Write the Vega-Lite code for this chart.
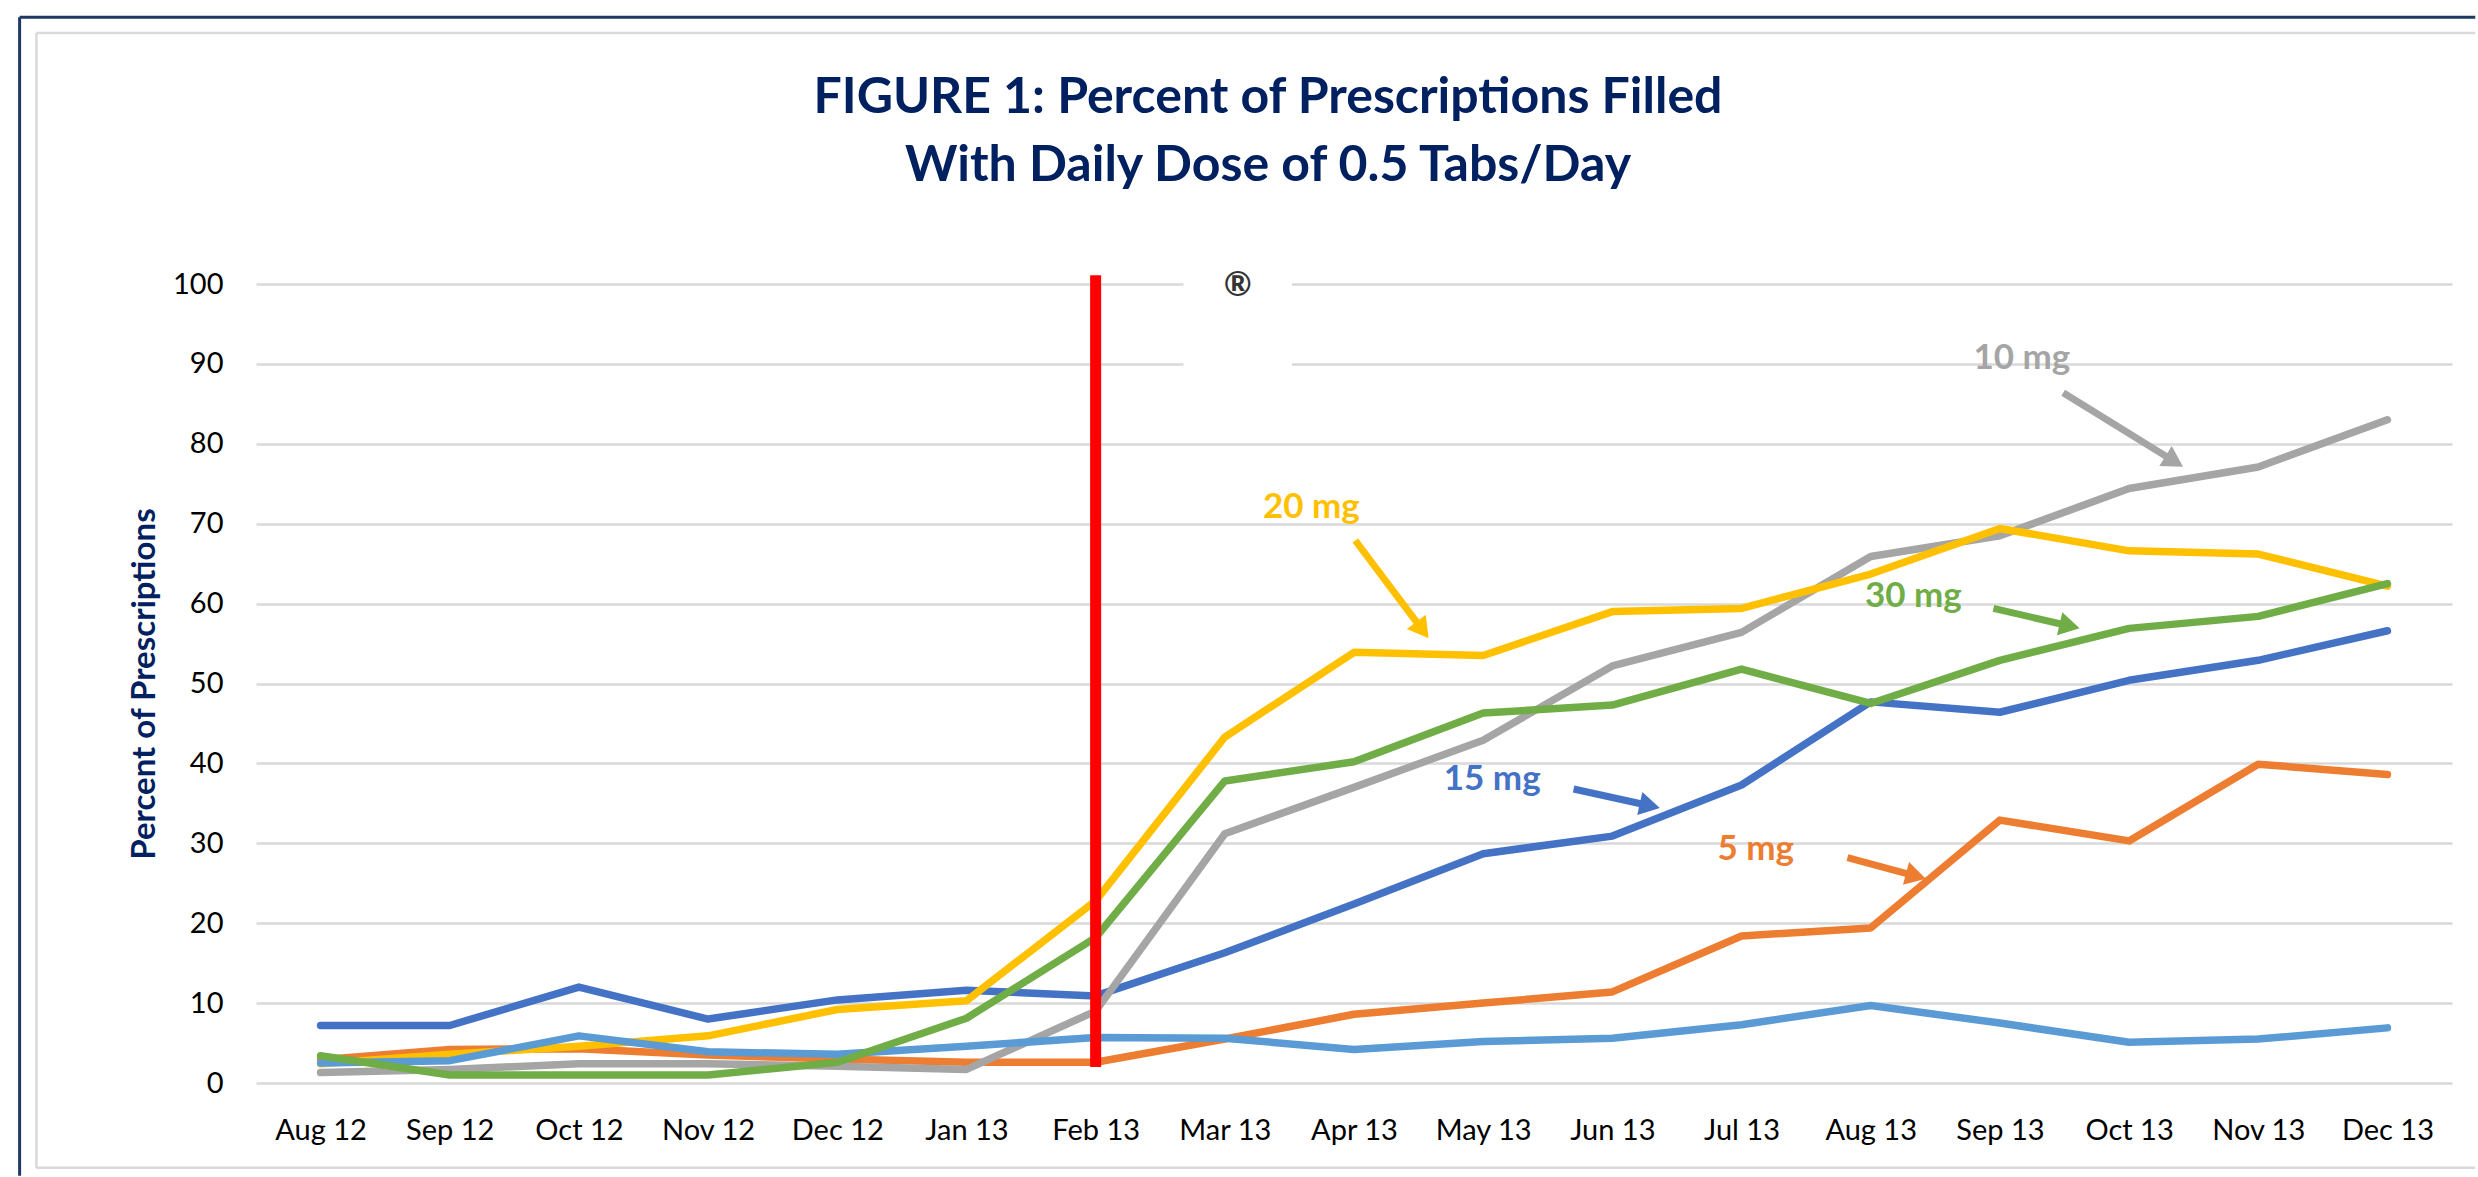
{
  "$schema": "https://vega.github.io/schema/vega-lite/v6.json",
  "width": 2196,
  "height": 799,
  "autosize": {"type": "none"},
  "padding": {"left": 256, "top": 284, "right": 26, "bottom": 94},
  "background": "white",
  "config": {"view": {"stroke": null}, "font": "Lato"},
  "title": {
    "text": ["FIGURE 1: Percent of Prescriptions Filled", "With Daily Dose of 0.5 Tabs/Day"],
    "font": "Lato", "fontSize": 50, "fontWeight": "bold", "color": "#002060",
    "lineHeight": 68, "anchor": "middle", "dx": -86, "offset": -215, "baseline": "alphabetic"
  },
  "datasets": {
    "one": [{}],
    "series": [
      {"month":"Aug 12","series":"15 mg","value":7.2},{"month":"Sep 12","series":"15 mg","value":7.2},{"month":"Oct 12","series":"15 mg","value":12.0},{"month":"Nov 12","series":"15 mg","value":8.0},{"month":"Dec 12","series":"15 mg","value":10.4},{"month":"Jan 13","series":"15 mg","value":11.6},{"month":"Feb 13","series":"15 mg","value":10.9},{"month":"Mar 13","series":"15 mg","value":16.3},{"month":"Apr 13","series":"15 mg","value":22.4},{"month":"May 13","series":"15 mg","value":28.7},{"month":"Jun 13","series":"15 mg","value":30.9},{"month":"Jul 13","series":"15 mg","value":37.3},{"month":"Aug 13","series":"15 mg","value":47.7},{"month":"Sep 13","series":"15 mg","value":46.4},{"month":"Oct 13","series":"15 mg","value":50.4},{"month":"Nov 13","series":"15 mg","value":52.9},{"month":"Dec 13","series":"15 mg","value":56.6},
      {"month":"Aug 12","series":"5 mg","value":2.9},{"month":"Sep 12","series":"5 mg","value":4.2},{"month":"Oct 12","series":"5 mg","value":4.3},{"month":"Nov 12","series":"5 mg","value":3.5},{"month":"Dec 12","series":"5 mg","value":3.0},{"month":"Jan 13","series":"5 mg","value":2.6},{"month":"Feb 13","series":"5 mg","value":2.6},{"month":"Mar 13","series":"5 mg","value":5.5},{"month":"Apr 13","series":"5 mg","value":8.6},{"month":"May 13","series":"5 mg","value":10.0},{"month":"Jun 13","series":"5 mg","value":11.4},{"month":"Jul 13","series":"5 mg","value":18.4},{"month":"Aug 13","series":"5 mg","value":19.4},{"month":"Sep 13","series":"5 mg","value":32.9},{"month":"Oct 13","series":"5 mg","value":30.3},{"month":"Nov 13","series":"5 mg","value":39.9},{"month":"Dec 13","series":"5 mg","value":38.6},
      {"month":"Aug 12","series":"10 mg","value":1.3},{"month":"Sep 12","series":"10 mg","value":1.7},{"month":"Oct 12","series":"10 mg","value":2.4},{"month":"Nov 12","series":"10 mg","value":2.4},{"month":"Dec 12","series":"10 mg","value":2.1},{"month":"Jan 13","series":"10 mg","value":1.7},{"month":"Feb 13","series":"10 mg","value":9.0},{"month":"Mar 13","series":"10 mg","value":31.2},{"month":"Apr 13","series":"10 mg","value":37.0},{"month":"May 13","series":"10 mg","value":42.9},{"month":"Jun 13","series":"10 mg","value":52.2},{"month":"Jul 13","series":"10 mg","value":56.4},{"month":"Aug 13","series":"10 mg","value":65.9},{"month":"Sep 13","series":"10 mg","value":68.5},{"month":"Oct 13","series":"10 mg","value":74.4},{"month":"Nov 13","series":"10 mg","value":77.1},{"month":"Dec 13","series":"10 mg","value":83.0},
      {"month":"Aug 12","series":"20 mg","value":2.4},{"month":"Sep 12","series":"20 mg","value":3.6},{"month":"Oct 12","series":"20 mg","value":4.6},{"month":"Nov 12","series":"20 mg","value":5.9},{"month":"Dec 12","series":"20 mg","value":9.2},{"month":"Jan 13","series":"20 mg","value":10.3},{"month":"Feb 13","series":"20 mg","value":22.8},{"month":"Mar 13","series":"20 mg","value":43.3},{"month":"Apr 13","series":"20 mg","value":53.9},{"month":"May 13","series":"20 mg","value":53.5},{"month":"Jun 13","series":"20 mg","value":59.0},{"month":"Jul 13","series":"20 mg","value":59.4},{"month":"Aug 13","series":"20 mg","value":63.7},{"month":"Sep 13","series":"20 mg","value":69.4},{"month":"Oct 13","series":"20 mg","value":66.6},{"month":"Nov 13","series":"20 mg","value":66.2},{"month":"Dec 13","series":"20 mg","value":62.2},
      {"month":"Aug 12","series":"Other","value":2.5},{"month":"Sep 12","series":"Other","value":2.8},{"month":"Oct 12","series":"Other","value":5.9},{"month":"Nov 12","series":"Other","value":3.9},{"month":"Dec 12","series":"Other","value":3.6},{"month":"Jan 13","series":"Other","value":4.6},{"month":"Feb 13","series":"Other","value":5.7},{"month":"Mar 13","series":"Other","value":5.6},{"month":"Apr 13","series":"Other","value":4.2},{"month":"May 13","series":"Other","value":5.2},{"month":"Jun 13","series":"Other","value":5.6},{"month":"Jul 13","series":"Other","value":7.3},{"month":"Aug 13","series":"Other","value":9.7},{"month":"Sep 13","series":"Other","value":7.5},{"month":"Oct 13","series":"Other","value":5.1},{"month":"Nov 13","series":"Other","value":5.5},{"month":"Dec 13","series":"Other","value":6.9},
      {"month":"Aug 12","series":"30 mg","value":3.4},{"month":"Sep 12","series":"30 mg","value":1.0},{"month":"Oct 12","series":"30 mg","value":1.0},{"month":"Nov 12","series":"30 mg","value":1.0},{"month":"Dec 12","series":"30 mg","value":2.6},{"month":"Jan 13","series":"30 mg","value":8.1},{"month":"Feb 13","series":"30 mg","value":18.2},{"month":"Mar 13","series":"30 mg","value":37.8},{"month":"Apr 13","series":"30 mg","value":40.2},{"month":"May 13","series":"30 mg","value":46.3},{"month":"Jun 13","series":"30 mg","value":47.3},{"month":"Jul 13","series":"30 mg","value":51.8},{"month":"Aug 13","series":"30 mg","value":47.5},{"month":"Sep 13","series":"30 mg","value":52.9},{"month":"Oct 13","series":"30 mg","value":56.9},{"month":"Nov 13","series":"30 mg","value":58.4},{"month":"Dec 13","series":"30 mg","value":62.5}
    ],
    "labels": [
      {"label":"20 mg","x":7.67,"y":72.1},
      {"label":"15 mg","x":9.07,"y":38.0},
      {"label":"5 mg","x":11.11,"y":29.3},
      {"label":"30 mg","x":12.33,"y":60.9},
      {"label":"10 mg","x":13.17,"y":90.7}
    ],
    "arrows": [
      {"label":"20 mg","x0":8.01,"y0":67.9,"x1":8.53,"y1":56.7},
      {"label":"15 mg","x0":9.70,"y0":36.8,"x1":10.29,"y1":34.7},
      {"label":"5 mg","x0":11.82,"y0":28.2,"x1":12.35,"y1":25.9},
      {"label":"30 mg","x0":12.95,"y0":59.4,"x1":13.54,"y1":57.2},
      {"label":"10 mg","x0":13.49,"y0":86.4,"x1":14.35,"y1":77.8}
    ]
  },
  "layer": [
    {
      "layer": [
        {
          "data": {"name": "series"},
          "mark": {"type": "line", "strokeWidth": 7.5, "strokeCap": "round", "strokeJoin": "round"},
          "encoding": {
            "x": {
              "field": "month", "type": "ordinal",
              "scale": {"type": "point", "padding": 0.5, "domain": ["Aug 12","Sep 12","Oct 12","Nov 12","Dec 12","Jan 13","Feb 13","Mar 13","Apr 13","May 13","Jun 13","Jul 13","Aug 13","Sep 13","Oct 13","Nov 13","Dec 13"]},
              "axis": {"title": null, "labelAngle": 0, "labelFont": "Lato", "labelFontSize": 29, "labelColor": "#000000", "labelPadding": 33, "ticks": false, "domain": false, "grid": false}
            },
            "y": {
              "field": "value", "type": "quantitative", "title": "Percent of Prescriptions",
              "scale": {"domain": [0, 100], "nice": false},
              "axis": {"values": [0,10,20,30,40,50,60,70,80,90,100], "grid": true, "gridColor": "#D9D9D9", "gridWidth": 2.5, "domain": false, "ticks": false, "labelFont": "Lato", "labelFontSize": 29, "labelColor": "#000000", "labelPadding": 33, "titleFont": "Lato", "titleFontSize": 33, "titleFontWeight": "bold", "titleColor": "#002060", "titlePadding": 11}
            },
            "color": {
              "field": "series", "type": "nominal",
              "scale": {"domain": ["15 mg","5 mg","10 mg","20 mg","Other","30 mg"], "range": ["#4472C4","#ED7D31","#A5A5A5","#FFC000","#5B9BD5","#70AD47"]},
              "legend": null
            }
          }
        },
        {
          "data": {"name": "one"},
          "mark": {"type": "rule", "color": "#FF0000", "strokeWidth": 11, "strokeCap": "butt"},
          "encoding": {
            "x": {"datum": "Feb 13", "type": "ordinal"},
            "y": {"datum": 2, "type": "quantitative", "title": "Percent of Prescriptions", "scale": {"domain": [0, 100], "nice": false}},
            "y2": {"datum": 101.1}
          }
        }
      ]
    },
    {
      "layer": [
        {
          "data": {"name": "one"},
          "mark": {"type": "rule", "color": "#D9D9D9", "strokeWidth": 2.5},
          "encoding": {
            "x": {"datum": -2.2, "type": "quantitative", "scale": {"domain": [-0.5, 16.5], "nice": false, "zero": false}, "axis": null},
            "x2": {"datum": 16.68},
            "y": {"datum": 131.4, "type": "quantitative", "title": "Percent of Prescriptions", "scale": {"domain": [0, 100], "nice": false}}
          }
        },
        {
          "data": {"name": "one"},
          "mark": {"type": "rule", "color": "#D9D9D9", "strokeWidth": 2.5},
          "encoding": {
            "x": {"datum": -2.2, "type": "quantitative", "scale": {"domain": [-0.5, 16.5], "nice": false, "zero": false}, "axis": null},
            "x2": {"datum": 16.68},
            "y": {"datum": -10.6, "type": "quantitative", "title": "Percent of Prescriptions", "scale": {"domain": [0, 100], "nice": false}}
          }
        },
        {
          "data": {"name": "one"},
          "mark": {"type": "rule", "color": "#D9D9D9", "strokeWidth": 2.5},
          "encoding": {
            "x": {"datum": -2.2, "type": "quantitative", "scale": {"domain": [-0.5, 16.5], "nice": false, "zero": false}, "axis": null},
            "y": {"datum": 131.4, "type": "quantitative", "title": "Percent of Prescriptions", "scale": {"domain": [0, 100], "nice": false}},
            "y2": {"datum": -10.6}
          }
        },
        {
          "data": {"name": "one"},
          "mark": {"type": "rule", "color": "#1F3864", "strokeWidth": 3},
          "encoding": {
            "x": {"datum": -2.33, "type": "quantitative", "scale": {"domain": [-0.5, 16.5], "nice": false, "zero": false}, "axis": null},
            "x2": {"datum": 16.68},
            "y": {"datum": 133.4, "type": "quantitative", "title": "Percent of Prescriptions", "scale": {"domain": [0, 100], "nice": false}}
          }
        },
        {
          "data": {"name": "one"},
          "mark": {"type": "rule", "color": "#1F3864", "strokeWidth": 3},
          "encoding": {
            "x": {"datum": -2.33, "type": "quantitative", "scale": {"domain": [-0.5, 16.5], "nice": false, "zero": false}, "axis": null},
            "y": {"datum": 133.4, "type": "quantitative", "title": "Percent of Prescriptions", "scale": {"domain": [0, 100], "nice": false}},
            "y2": {"datum": -11.6}
          }
        },
        {
          "data": {"name": "one"},
          "mark": {"type": "rect", "fill": "white", "stroke": null},
          "encoding": {
            "x": {"datum": 6.68, "type": "quantitative", "scale": {"domain": [-0.5, 16.5], "nice": false, "zero": false}, "axis": null},
            "x2": {"datum": 7.52},
            "y": {"datum": 86, "type": "quantitative", "title": "Percent of Prescriptions", "scale": {"domain": [0, 100], "nice": false}},
            "y2": {"datum": 102}
          }
        },
        {
          "data": {"name": "one"},
          "mark": {"type": "text", "text": "®", "fontSize": 34, "fontWeight": "bold", "color": "#333333", "align": "center", "baseline": "middle"},
          "encoding": {
            "x": {"datum": 7.10, "type": "quantitative", "scale": {"domain": [-0.5, 16.5], "nice": false, "zero": false}, "axis": null},
            "y": {"datum": 99.75, "type": "quantitative", "title": "Percent of Prescriptions", "scale": {"domain": [0, 100], "nice": false}}
          }
        },
        {
          "data": {"name": "arrows"},
          "mark": {"type": "rule", "strokeWidth": 7, "strokeCap": "butt"},
          "encoding": {
            "x": {"field": "x0", "type": "quantitative", "scale": {"domain": [-0.5, 16.5], "nice": false, "zero": false}, "axis": null},
            "x2": {"field": "x1"},
            "y": {"field": "y0", "type": "quantitative", "title": "Percent of Prescriptions", "scale": {"domain": [0, 100], "nice": false}},
            "y2": {"field": "y1"},
            "color": {"field": "label", "type": "nominal", "scale": {"domain": ["20 mg","15 mg","5 mg","30 mg","10 mg"], "range": ["#FFC000","#4472C4","#ED7D31","#70AD47","#A5A5A5"]}, "legend": null}
          }
        },
        {
          "data": {"name": "arrows"},
          "transform": [{"filter": "datum.label == '20 mg'"}],
          "mark": {"type": "point", "shape": "triangle-up", "filled": true, "opacity": 1, "size": 560, "angle": 143, "color": "#FFC000"},
          "encoding": {
            "x": {"field": "x1", "type": "quantitative", "scale": {"domain": [-0.5, 16.5], "nice": false, "zero": false}, "axis": null},
            "y": {"field": "y1", "type": "quantitative", "title": "Percent of Prescriptions", "scale": {"domain": [0, 100], "nice": false}}
          }
        },
        {
          "data": {"name": "arrows"},
          "transform": [{"filter": "datum.label == '15 mg'"}],
          "mark": {"type": "point", "shape": "triangle-up", "filled": true, "opacity": 1, "size": 560, "angle": 102.4, "color": "#4472C4"},
          "encoding": {
            "x": {"field": "x1", "type": "quantitative", "scale": {"domain": [-0.5, 16.5], "nice": false, "zero": false}, "axis": null},
            "y": {"field": "y1", "type": "quantitative", "title": "Percent of Prescriptions", "scale": {"domain": [0, 100], "nice": false}}
          }
        },
        {
          "data": {"name": "arrows"},
          "transform": [{"filter": "datum.label == '5 mg'"}],
          "mark": {"type": "point", "shape": "triangle-up", "filled": true, "opacity": 1, "size": 560, "angle": 105, "color": "#ED7D31"},
          "encoding": {
            "x": {"field": "x1", "type": "quantitative", "scale": {"domain": [-0.5, 16.5], "nice": false, "zero": false}, "axis": null},
            "y": {"field": "y1", "type": "quantitative", "title": "Percent of Prescriptions", "scale": {"domain": [0, 100], "nice": false}}
          }
        },
        {
          "data": {"name": "arrows"},
          "transform": [{"filter": "datum.label == '30 mg'"}],
          "mark": {"type": "point", "shape": "triangle-up", "filled": true, "opacity": 1, "size": 560, "angle": 103, "color": "#70AD47"},
          "encoding": {
            "x": {"field": "x1", "type": "quantitative", "scale": {"domain": [-0.5, 16.5], "nice": false, "zero": false}, "axis": null},
            "y": {"field": "y1", "type": "quantitative", "title": "Percent of Prescriptions", "scale": {"domain": [0, 100], "nice": false}}
          }
        },
        {
          "data": {"name": "arrows"},
          "transform": [{"filter": "datum.label == '10 mg'"}],
          "mark": {"type": "point", "shape": "triangle-up", "filled": true, "opacity": 1, "size": 560, "angle": 121.7, "color": "#A5A5A5"},
          "encoding": {
            "x": {"field": "x1", "type": "quantitative", "scale": {"domain": [-0.5, 16.5], "nice": false, "zero": false}, "axis": null},
            "y": {"field": "y1", "type": "quantitative", "title": "Percent of Prescriptions", "scale": {"domain": [0, 100], "nice": false}}
          }
        },
        {
          "data": {"name": "labels"},
          "mark": {"type": "text", "font": "Lato", "fontSize": 35, "fontWeight": "bold", "align": "center", "baseline": "middle"},
          "encoding": {
            "x": {"field": "x", "type": "quantitative", "scale": {"domain": [-0.5, 16.5], "nice": false, "zero": false}, "axis": null},
            "y": {"field": "y", "type": "quantitative", "title": "Percent of Prescriptions", "scale": {"domain": [0, 100], "nice": false}},
            "text": {"field": "label"},
            "color": {"field": "label", "type": "nominal", "scale": {"domain": ["20 mg","15 mg","5 mg","30 mg","10 mg"], "range": ["#FFC000","#4472C4","#ED7D31","#70AD47","#A5A5A5"]}, "legend": null}
          }
        }
      ]
    }
  ],
  "resolve": {"scale": {"x": "independent"}}
}
